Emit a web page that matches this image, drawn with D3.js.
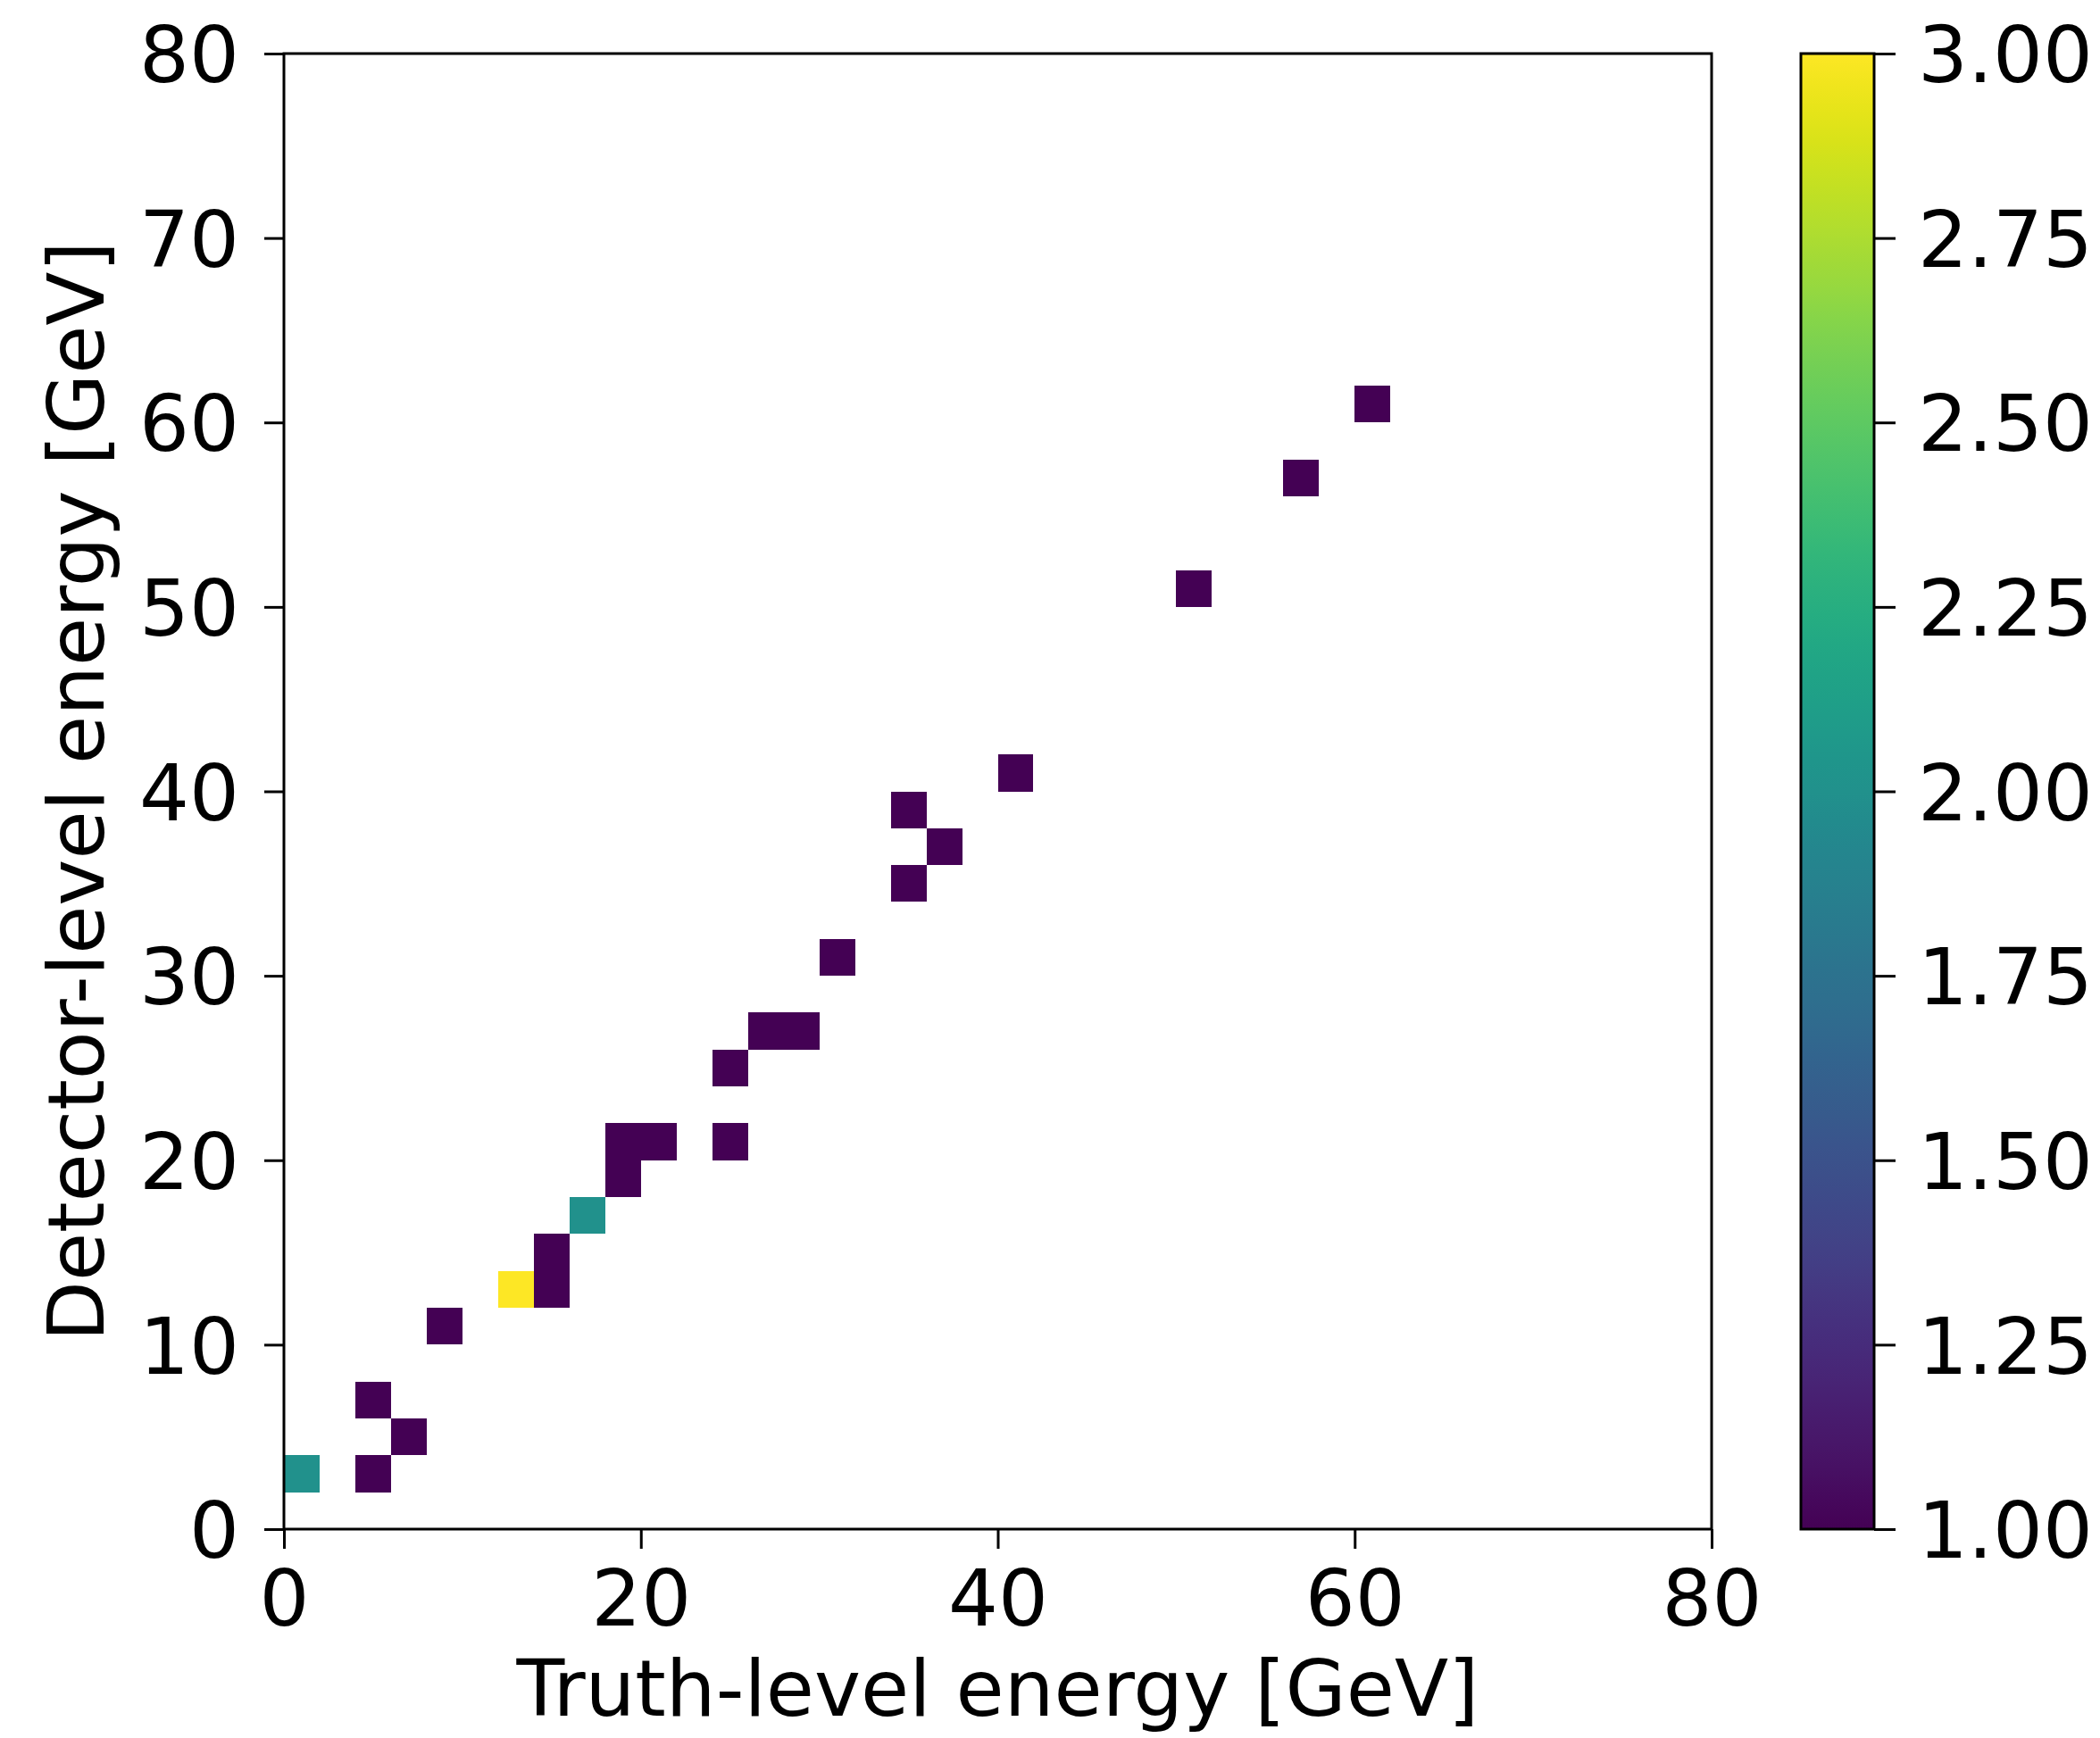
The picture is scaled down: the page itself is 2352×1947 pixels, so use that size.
<!DOCTYPE html>
<html>
<head>
<meta charset="utf-8">
<script src="https://cdn.jsdelivr.net/npm/d3@7"></script>
<style>
  html, body { margin: 0; padding: 0; background: #ffffff; }
  svg { display: block; }
  text { font-family: "DejaVu Sans", sans-serif; fill: #000; }
</style>
</head>
<body>
<svg id="chart" width="2352" height="1947"></svg>
<script>
// ---- Data (2D histogram, 2 GeV bins; lower bin edges) ----
const binWidth = 2;
const truthEnergy    = [0, 4, 4, 6, 8, 12, 14, 14, 16, 18, 18, 20, 24, 24, 26, 28, 30, 34, 36, 34, 40, 50, 56, 60];
const detectorEnergy = [2, 2, 6, 4, 10, 12, 12, 14, 16, 18, 20, 20, 20, 24, 26, 26, 30, 34, 36, 38, 40, 50, 56, 60];
const counts         = [2, 1, 1, 1, 1, 3, 1, 1, 2, 1, 1, 1, 1, 1, 1, 1, 1, 1, 1, 1, 1, 1, 1, 1];
const xTicks = [0, 20, 40, 60, 80];
const yTicks = [0, 10, 20, 30, 40, 50, 60, 70, 80];
const colorTicks = [1.00, 1.25, 1.50, 1.75, 2.00, 2.25, 2.50, 2.75, 3.00];
const xLabel = "Truth-level energy [GeV]";
const yLabel = "Detector-level energy [GeV]";

const cells = truthEnergy.map((t, i) => ({ t, d: detectorEnergy[i], c: counts[i] }));

// ---- Layout ----
const plot = { left: 318, right: 1917, top: 60, bottom: 1713 };
const cbar = { left: 2017, right: 2099, top: 60, bottom: 1713 };
const fontSize = 88;

const svg = d3.select("#chart");

const x = d3.scaleLinear().domain([0, 80]).range([plot.left, plot.right]);
const y = d3.scaleLinear().domain([0, 80]).range([plot.bottom, plot.top]);
const color = d3.scaleSequential(d3.interpolateViridis).domain([1, 3]);

// cells
svg.append("g")
  .selectAll("rect")
  .data(cells)
  .join("rect")
  .attr("x", d => x(d.t))
  .attr("y", d => y(d.d + binWidth))
  .attr("width", d => x(d.t + binWidth) - x(d.t))
  .attr("height", d => y(d.d) - y(d.d + binWidth))
  .attr("fill", d => color(d.c))
  .attr("shape-rendering", "crispEdges");

// x axis
const gx = svg.append("g")
  .attr("transform", `translate(0,${plot.bottom})`)
  .call(d3.axisBottom(x).tickValues(xTicks).tickFormat(d3.format("d")).tickSize(22).tickPadding(24));
gx.select(".domain").remove();
gx.selectAll(".tick line").attr("stroke", "#000").attr("stroke-width", 3);
gx.selectAll(".tick text").style("font-size", fontSize + "px").attr("fill", "#000");

// y axis
const gy = svg.append("g")
  .attr("transform", `translate(${plot.left},0)`)
  .call(d3.axisLeft(y).tickValues(yTicks).tickFormat(d3.format("d")).tickSize(22).tickPadding(28));
gy.select(".domain").remove();
gy.selectAll(".tick line").attr("stroke", "#000").attr("stroke-width", 3);
gy.selectAll(".tick text").style("font-size", fontSize + "px").attr("fill", "#000").attr("dy", "0.36em");

// frame
svg.append("rect")
  .attr("x", plot.left).attr("y", plot.top)
  .attr("width", plot.right - plot.left).attr("height", plot.bottom - plot.top)
  .attr("fill", "none").attr("stroke", "#000").attr("stroke-width", 3);

// axis labels
svg.append("text")
  .attr("x", (plot.left + plot.right) / 2)
  .attr("y", 1922)
  .attr("text-anchor", "middle")
  .style("font-size", fontSize + "px")
  .text(xLabel);

svg.append("text")
  .attr("transform", `translate(116,${(plot.top + plot.bottom) / 2}) rotate(-90)`)
  .attr("text-anchor", "middle")
  .style("font-size", fontSize + "px")
  .text(yLabel);

// colorbar
const defs = svg.append("defs");
const grad = defs.append("linearGradient")
  .attr("id", "viridisGrad")
  .attr("x1", "0").attr("y1", "1").attr("x2", "0").attr("y2", "0");
d3.range(0, 1.0001, 0.02).forEach(t => {
  grad.append("stop").attr("offset", t).attr("stop-color", d3.interpolateViridis(t));
});
svg.append("rect")
  .attr("x", cbar.left).attr("y", cbar.top)
  .attr("width", cbar.right - cbar.left).attr("height", cbar.bottom - cbar.top)
  .attr("fill", "url(#viridisGrad)")
  .attr("stroke", "#000").attr("stroke-width", 3);

const cy = d3.scaleLinear().domain([1, 3]).range([cbar.bottom, cbar.top]);
const gc = svg.append("g")
  .attr("transform", `translate(${cbar.right},0)`)
  .call(d3.axisRight(cy).tickValues(colorTicks).tickFormat(d3.format(".2f")).tickSize(24).tickPadding(25));
gc.select(".domain").remove();
gc.selectAll(".tick line").attr("stroke", "#000").attr("stroke-width", 3);
gc.selectAll(".tick text").style("font-size", fontSize + "px").attr("fill", "#000").attr("dy", "0.36em");
</script>
</body>
</html>
